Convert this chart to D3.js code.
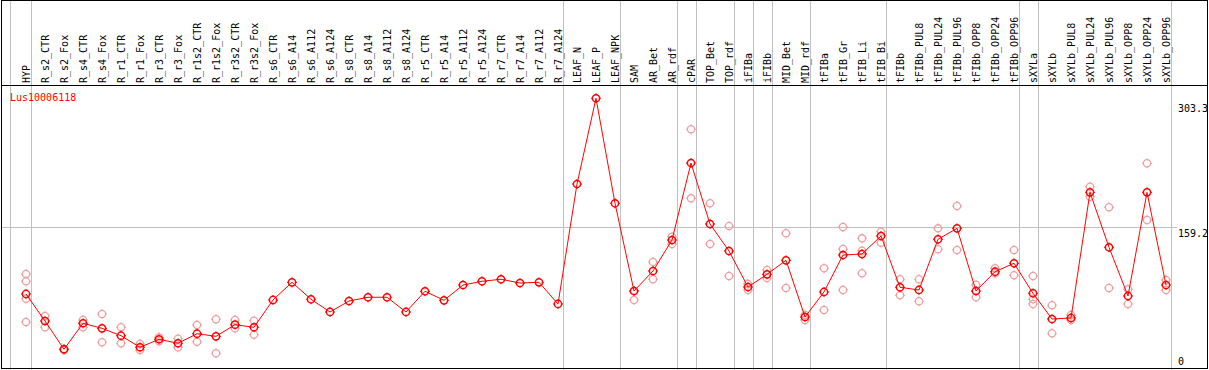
<!DOCTYPE html>
<html>
<head>
<meta charset="utf-8">
<script src="https://cdn.jsdelivr.net/npm/d3@7"></script>
<style>
html,body{margin:0;padding:0;background:#fff;}
svg{display:block;}
text{font-family:"DejaVu Sans Mono",monospace;font-size:10px;}
</style>
</head>
<body>
<svg id="chart" width="1209" height="370"></svg>
<script>
const categories = ["HYP","R_s2_CTR","R_s2_Fox","R_s4_CTR","R_s4_Fox","R_r1_CTR","R_r1_Fox","R_r3_CTR","R_r3_Fox","R_r1s2_CTR","R_r1s2_Fox","R_r3s2_CTR","R_r3s2_Fox","R_s6_CTR","R_s6_A14","R_s6_A112","R_s6_A124","R_s8_CTR","R_s8_A14","R_s8_A112","R_s8_A124","R_r5_CTR","R_r5_A14","R_r5_A112","R_r5_A124","R_r7_CTR","R_r7_A14","R_r7_A112","R_r7_A124","LEAF_N","LEAF_P","LEAF_NPK","SAM","AR_Bet","AR_rdf","cPAR","TOP_Bet","TOP_rdf","iFIBa","iFIBb","MID_Bet","MID_rdf","tFIBa","tFIB_Gr","tFIB_Li","tFIB_Bi","tFIBb","tFIBb_PUL8","tFIBb_PUL24","tFIBb_PUL96","tFIBb_OPP8","tFIBb_OPP24","tFIBb_OPP96","sXYLa","sXYLb","sXYLb_PUL8","sXYLb_PUL24","sXYLb_PUL96","sXYLb_OPP8","sXYLb_OPP24","sXYLb_OPP96"];

const means = [82.5,51.4,18.9,48.8,43.0,34.5,21.2,30.4,25.8,36.8,33.8,47.2,44.2,75.6,95.9,76.4,61.8,74.4,78.7,78.7,61.8,85.6,75.2,92.8,97.1,99.4,95.1,95.9,71.0,209.0,307.6,186.8,85.9,108.9,144.6,233.1,163.0,131.9,90.5,105.1,121.2,56.0,84.8,127.3,128.5,149.2,90.2,87.1,145.4,158.0,85.9,108.1,117.8,83.3,53.7,54.9,199.4,136.2,80.2,199.4,92.8];

const replicates = [
  [105.5,97.1,77.1,50.3],[57.2,44.2],[19.2,18.1],[52.6,44.2],[59.5,26.9],[44.2,25.8],[25.0,18.1],[32.7,28.1],[31.1,21.2],[46.8,27.6],[53.4,14.3],[52.6,43.0],[51.8,35.7],
  [],[],[],[],[],[],[],[],[],[],[],[],[],[],[],[],
  [],[],[],
  [75.6,85.9],[119.3,99.4],[148.4,140.0],[271.9,192.5],[186.8,140.0],[160.7,103.2],[87.1,94.0],[110.1,100.9],[152.3,89.4],[52.6,58.4],
  [112.0,64.1],[159.5,134.2,87.1],[146.5,132.3,106.3],[154.1,141.5],
  [99.4,81.0],[99.4,74.1],[158.0,133.9],[183.7,133.1],[93.2,78.7],[112.0,106.3],[133.1,104.0],
  [103.2,76.4,71.0],[69.5,37.3],[58.3,52.6],[205.9,194.4],[182.2,89.4],[87.9,71.0],[232.8,167.6],[98.6,87.1]
];

const groupEnds = ["HYP","R_r7_A124","LEAF_NPK","AR_rdf","cPAR","TOP_rdf","iFIBa","iFIBb","MID_rdf","tFIB_Bi","tFIBb_OPP96","sXYLa","sXYLb_OPP96"];
const axisTicks = [303.3, 159.2, 0];
const geneName = "Lus10006118";

const W = 1209, H = 370;
const svg = d3.select("#chart");
const x = d3.scalePoint().domain(categories).range([26, 1166]).padding(0);
const y = d3.scaleLinear().domain([0, 303.3]).range([365.7, 102]);

const grey = "#c0c0c0", red = "#ff0000", pink = "#eea0a0";

// vertical separators
svg.append("line").attr("x1",10.5).attr("x2",10.5).attr("y1",0).attr("y2",H).attr("stroke",grey);
svg.selectAll("line.sep").data(groupEnds).enter().append("line").attr("class","sep")
  .attr("x1",d=>Math.round(x(d)+4.7)+0.5).attr("x2",d=>Math.round(x(d)+4.7)+0.5)
  .attr("y1",0).attr("y2",H).attr("stroke",grey);

// horizontal reference line at 159.2
svg.append("line").attr("x1",1).attr("x2",1177).attr("y1",Math.round(y(159.2))+0.5).attr("y2",Math.round(y(159.2))+0.5).attr("stroke",grey);

// frame
svg.append("rect").attr("x",1.5).attr("y",0.5).attr("width",1206).attr("height",368).attr("fill","none").attr("stroke","#000");
svg.append("line").attr("x1",1).attr("x2",1208).attr("y1",85.5).attr("y2",85.5).attr("stroke","#000");

// category labels
svg.selectAll("text.cat").data(categories).enter().append("text").attr("class","cat")
  .attr("transform",d=>`translate(${x(d)+3.5},83) rotate(-90)`)
  .attr("fill","#000").text(d=>d);

// gene name
svg.append("text").attr("x",10).attr("y",101).attr("fill",red).text(geneName);

// right axis labels
svg.selectAll("text.tick").data(axisTicks).enter().append("text").attr("class","tick")
  .attr("x",1178)
  .attr("y",d=> d===0 ? y(d)-1 : y(d)+9.5)
  .attr("fill","#000").text(d=>d===0?"0":d.toFixed(1));

function marker(g, cx, cy, color, sw){
  g.append("circle").attr("cx",cx).attr("cy",cy).attr("r",3.6).attr("fill","none").attr("stroke",color).attr("stroke-width",sw);
  const t = 5;
  [[0,-1],[0,1],[-1,0],[1,0]].forEach(([dx,dy])=>{
    g.append("line").attr("x1",cx+dx*3.6).attr("y1",cy+dy*3.6).attr("x2",cx+dx*t).attr("y2",cy+dy*t).attr("stroke",color).attr("stroke-width",1);
  });
}

// replicates
const repG = svg.append("g");
replicates.forEach((arr,i)=>{
  arr.forEach(v=>marker(repG, x(categories[i]), y(v), pink, 1.3));
});

// mean line
const line = d3.line().x((d,i)=>x(categories[i])).y(d=>y(d));
svg.append("path").datum(means).attr("d",line).attr("fill","none").attr("stroke",red).attr("stroke-width",1);

// mean markers
const meanG = svg.append("g");
means.forEach((v,i)=>marker(meanG, x(categories[i]), y(v), red, 1.5));
</script>
</body>
</html>
